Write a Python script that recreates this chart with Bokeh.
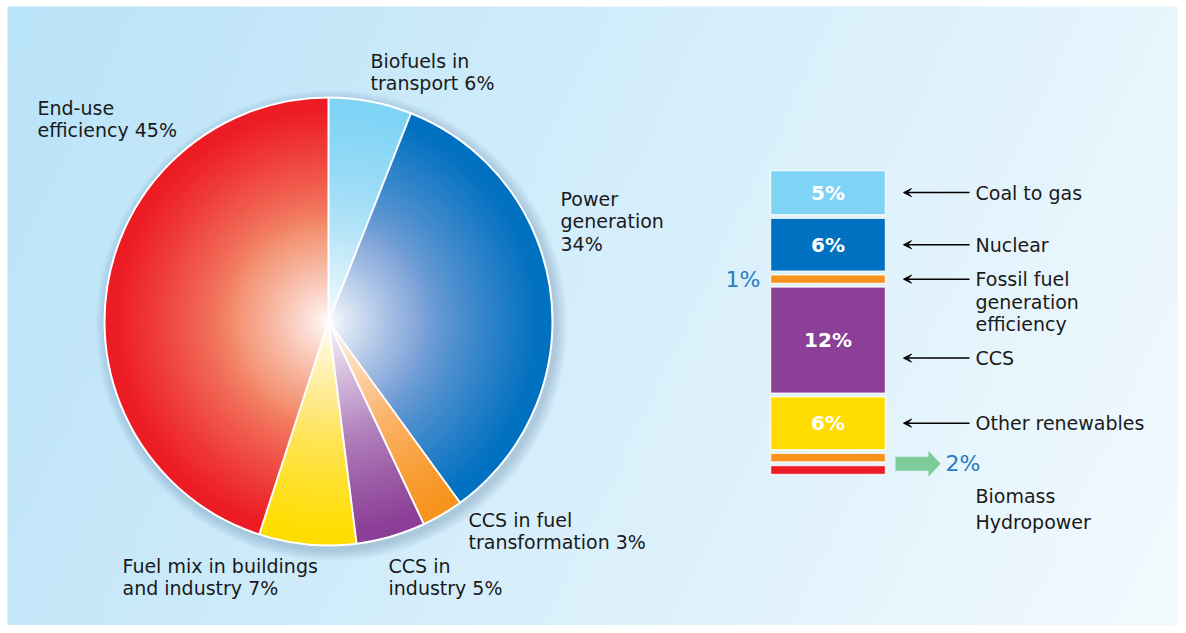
import numpy as np
from bokeh.plotting import figure
from bokeh.models import Range1d, Arrow, VeeHead
from bokeh.core.properties import value
from bokeh.embed import file_html
from bokeh.resources import INLINE

# ---------------- data ----------------
pie_names = ["Biofuels in transport", "Power generation", "CCS in fuel transformation",
             "CCS in industry", "Fuel mix in buildings and industry", "End-use efficiency"]
pie_values = [6, 34, 3, 5, 7, 45]
pie_label_lines = [["Biofuels in", "transport 6%"],
                   ["Power", "generation", "34%"],
                   ["CCS in fuel", "transformation 3%"],
                   ["CCS in", "industry 5%"],
                   ["Fuel mix in buildings", "and industry 7%"],
                   ["End-use", "efficiency 45%"]]
pie_base = ["#7fd3f5", "#0070c0", "#f7941d", "#8b3f96", "#ffdd00", "#ed1c24"]
pie_mid = ["#b5e4f8", "#7ea3d8", "#fbbd80", "#bf98ca", "#ffe77a", "#f3906f"]

bar_names = ["Coal to gas", "Nuclear", "Fossil fuel generation efficiency", "CCS",
             "Other renewables", "Biomass", "Hydropower"]
bar_values = [5, 6, 1, 12, 6, 1, 1]
bar_inner_labels = ["5%", "6%", "", "12%", "6%", "", ""]
bar_colors = ["#7fd3f5", "#0070c0", "#f7941d", "#8b3f96", "#ffdd00", "#f7941d", "#ed1c24"]
bar_right_labels = [["Coal to gas"], ["Nuclear"], ["Fossil fuel", "generation", "efficiency"],
                    ["CCS"], ["Other renewables"]]
small_left_label = "1%"
combined_label = "2%"
combined_names = ["Biomass", "Hydropower"]

# ---------------- layout helpers (screen px -> data) ----------------
W, H = 1178, 625
def sx(x): return x
def sy(y): return H - y

FONT = value("DejaVu Sans")

p = figure(width=W, height=H, x_range=Range1d(0, W), y_range=Range1d(0, H),
           output_backend="svg", toolbar_location=None, min_border=0)
p.axis.visible = False
p.grid.visible = False
p.outline_line_color = None
p.background_fill_color = "white"
p.border_fill_color = "white"

# background gradient panel
nx, ny = 160, 90
xs = np.linspace(0, 1, nx)
ys = np.linspace(0, 1, ny)  # row 0 = bottom
XX, YY = np.meshgrid(xs, ys)
s = np.clip(0.8 * XX + 0.2 * (1 - YY), 0, 1)
c0 = np.array([185, 227, 248]); c1 = np.array([243, 250, 254])
img = np.zeros((ny, nx), dtype=np.uint32)
view = img.view(dtype=np.uint8).reshape((ny, nx, 4))
for i in range(3):
    view[:, :, i] = (c0[i] + (c1[i] - c0[i]) * s).astype(np.uint8)
view[:, :, 3] = 255
p.image_rgba(image=[img], x=sx(7), y=0, dw=W - 7, dh=sy(6))

# ---------------- pie ----------------
cx, cy, R = sx(328), sy(321), 224

def hex2rgb(h):
    h = h.lstrip("#"); return np.array([int(h[i:i+2], 16) for i in (0, 2, 4)], float)
def rgb2hex(c):
    c = np.clip(np.round(c), 0, 255).astype(int); return "#%02x%02x%02x" % tuple(c)
def grad(t, mid, base):
    w = np.array([255., 255., 255.]); m = hex2rgb(mid); b = hex2rgb(base)
    if t < 0.42:
        f = (t / 0.42) ** 0.85
        return rgb2hex(w + (m - w) * f)
    f = min(1.0, ((t - 0.42) / 0.53)) ** 0.8
    return rgb2hex(m + (b - m) * f)

# shadow
for k in range(10):
    p.circle(x=[cx + 3], y=[cy - 4], radius=R + 1 + k * 1.2, fill_color="#1c4f7a",
             fill_alpha=0.022, line_color=None)

total = float(sum(pie_values))
cum = np.concatenate([[0], np.cumsum(pie_values)]) / total
starts = np.pi / 2 - 2 * np.pi * cum[:-1]
ends = np.pi / 2 - 2 * np.pi * cum[1:]

N = 70
wx, wy, wr, ws, we, wc = [], [], [], [], [], []
for i in range(len(pie_values)):
    for k in range(N, 0, -1):
        t = k / N
        wx.append(cx); wy.append(cy); wr.append(R * t)
        ws.append(starts[i]); we.append(ends[i])
        wc.append(grad(t - 0.5 / N, pie_mid[i], pie_base[i]))
p.wedge(x=wx, y=wy, radius=wr, start_angle=ws, end_angle=we, direction="clock",
        fill_color=wc, line_color=None)

# separators and outline
p.segment(x0=[cx] * len(starts), y0=[cy] * len(starts),
          x1=list(cx + R * np.cos(starts)), y1=list(cy + R * np.sin(starts)),
          line_color="white", line_width=2)
p.circle(x=[cx], y=[cy], radius=R, fill_color=None, line_color="white", line_width=2)

# pie labels (anchor = screen position of first line)
pie_label_pos = [(370, 60), (560, 198), (468, 519), (388, 565), (122, 565), (37, 107)]
LH = 22.5
tx, ty, tt = [], [], []
for (lx, ly), lines in zip(pie_label_pos, pie_label_lines):
    for j, ln in enumerate(lines):
        tx.append(sx(lx)); ty.append(sy(ly + j * LH)); tt.append(ln)
p.text(x=tx, y=ty, text=tt, text_font=FONT, text_font_size="19px", text_color="#1a1a1a",
       text_baseline="middle", text_align="left")

# ---------------- stacked bar ----------------
bar_left, bar_right = sx(770), sx(885)
unit, gap = 8.84, 3.5
top = sy(170)
tops, bots = [], []
cur = top
for v in bar_values:
    tops.append(cur); bots.append(cur - v * unit); cur = cur - v * unit - gap
centers = [(a + b) / 2 for a, b in zip(tops, bots)]

p.quad(left=[bar_left] * len(bar_values), right=[bar_right] * len(bar_values),
       top=tops, bottom=bots, fill_color=bar_colors, line_color="white", line_width=1.5,
       line_alpha=0.8)

# inner percentage labels
ix, iy, it = [], [], []
for c, lab in zip(centers, bar_inner_labels):
    if lab:
        ix.append((bar_left + bar_right) / 2); iy.append(c); it.append(lab)
p.text(x=ix, y=iy, text=it, text_font=FONT, text_font_size="20px", text_font_style="bold",
       text_color="white", text_align="center", text_baseline="middle")

# right side labels with arrows
shift = {3: -18}
rx, ry, rt = [], [], []
for i, lines in enumerate(bar_right_labels):
    yc = centers[i] + shift.get(i, 0)
    p.add_layout(Arrow(end=VeeHead(size=8, line_color="black", fill_color="black", line_width=1),
                       x_start=sx(969), y_start=yc, x_end=sx(903), y_end=yc,
                       line_color="black", line_width=1.5))
    for j, ln in enumerate(lines):
        rx.append(sx(975)); ry.append(yc - j * LH); rt.append(ln)
p.text(x=rx, y=ry, text=rt, text_font=FONT, text_font_size="19px", text_color="#1a1a1a",
       text_align="left", text_baseline="middle")

# 1% label on the left of the thin segment
p.text(x=[sx(760)], y=[centers[2]], text=[small_left_label], text_font=FONT,
       text_font_size="22px", text_color="#2a7bc4", text_align="right", text_baseline="middle")

# combined biomass + hydropower
yc2 = (tops[5] + bots[6]) / 2
gx0, gx1, gx2 = sx(895), sx(928), sx(940)
p.patch(x=[gx0, gx1, gx1, gx2, gx1, gx1, gx0],
        y=[yc2 + 7, yc2 + 7, yc2 + 13, yc2, yc2 - 13, yc2 - 7, yc2 - 7],
        fill_color="#7ecb9a", line_color=None)
p.text(x=[sx(945)], y=[yc2], text=[combined_label], text_font=FONT, text_font_size="22px",
       text_color="#2a7bc4", text_align="left", text_baseline="middle")
p.text(x=[sx(975)] * 2, y=[yc2 - 32, yc2 - 32 - 26], text=combined_names, text_font=FONT,
       text_font_size="19px", text_color="#1a1a1a", text_align="left", text_baseline="middle")

open("out.html", "w").write(file_html(p, INLINE))
